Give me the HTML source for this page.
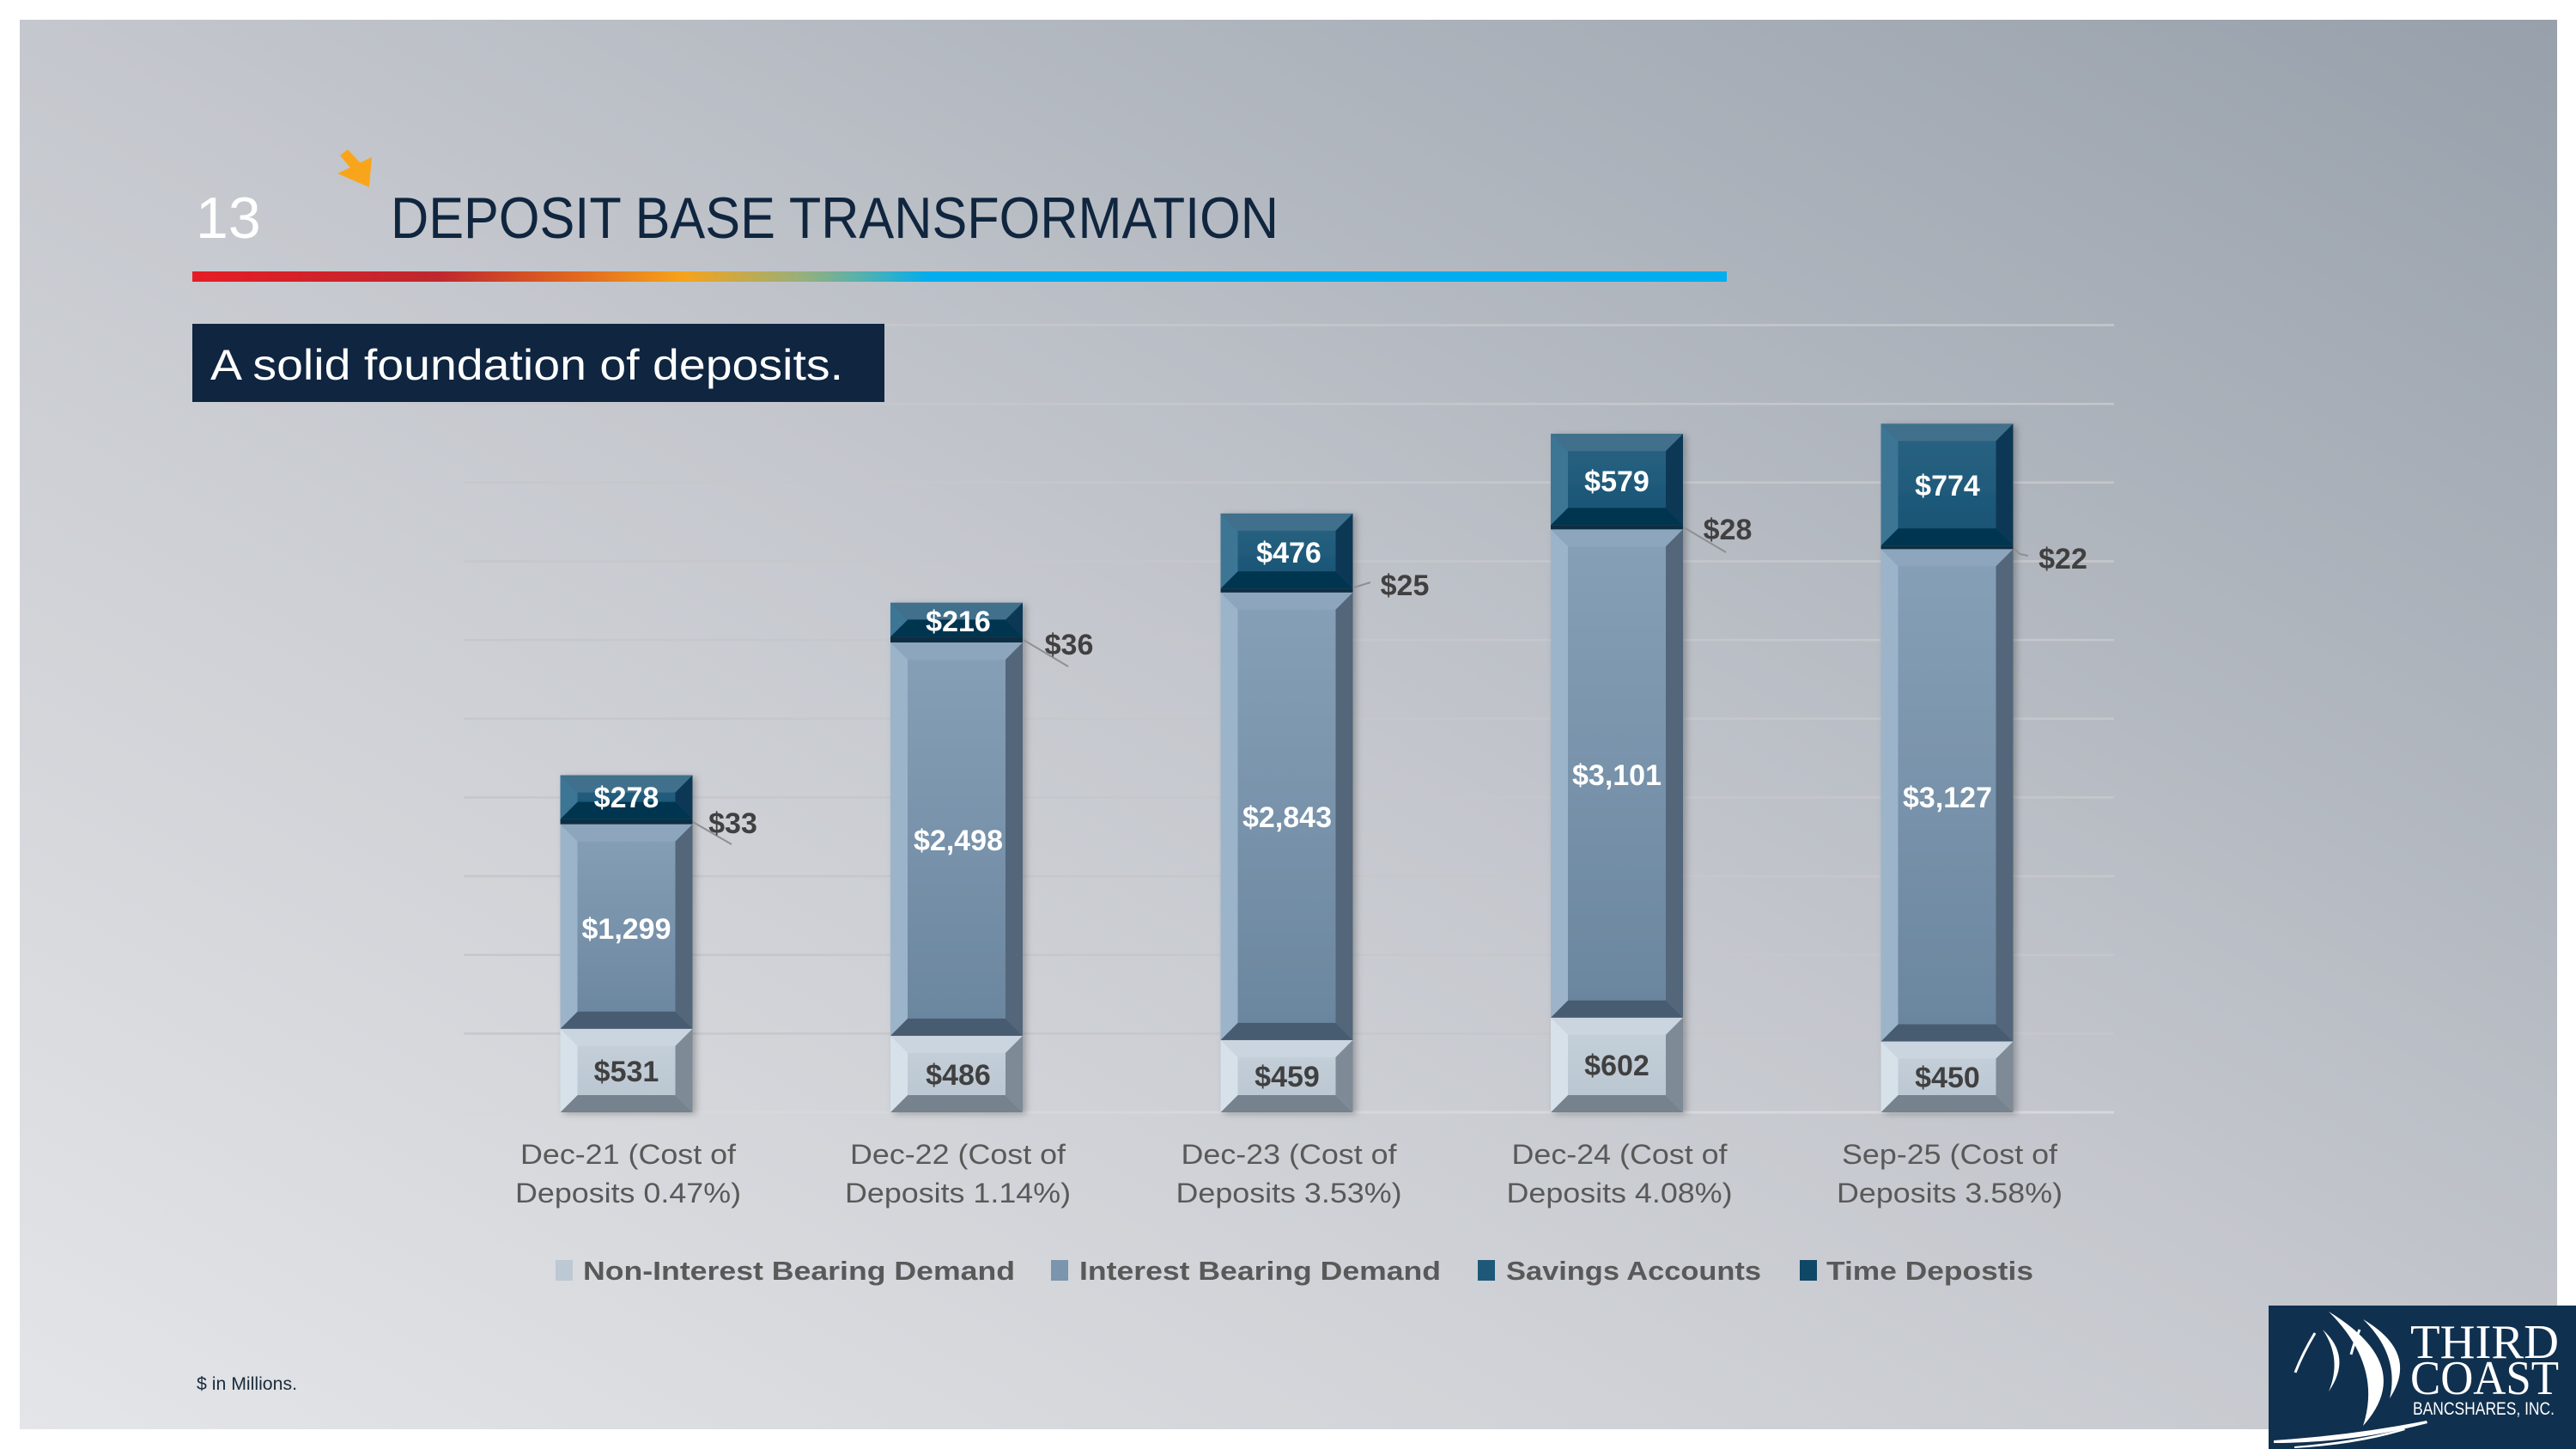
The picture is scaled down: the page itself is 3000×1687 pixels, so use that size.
<!DOCTYPE html>
<html><head><meta charset="utf-8"><style>
html,body{margin:0;padding:0;background:#fff;}
svg{display:block;}
</style></head><body>
<svg width="3000" height="1687" viewBox="0 0 3000 1687" xmlns="http://www.w3.org/2000/svg">
<defs>
<linearGradient id="bg" x1="0" y1="1" x2="1" y2="0">
<stop offset="0" stop-color="#e4e5e8"/><stop offset="0.5" stop-color="#c4c7cd"/><stop offset="1" stop-color="#97a0ab"/>
</linearGradient>
<linearGradient id="rb" x1="0" y1="0" x2="1" y2="0">
<stop offset="0" stop-color="#e51d25"/><stop offset="0.16" stop-color="#bf272e"/><stop offset="0.25" stop-color="#e0681f"/><stop offset="0.32" stop-color="#f6a31b"/><stop offset="0.40" stop-color="#94b07e"/><stop offset="0.44" stop-color="#4db1b5"/><stop offset="0.48" stop-color="#00adee"/><stop offset="1" stop-color="#00adee"/>
</linearGradient>
<linearGradient id="fN" x1="0" y1="0" x2="0" y2="1"><stop offset="0" stop-color="#c6d1db"/><stop offset="1" stop-color="#b8c4cf"/></linearGradient>
<linearGradient id="fI" x1="0" y1="0" x2="0" y2="1"><stop offset="0" stop-color="#86a0b7"/><stop offset="1" stop-color="#6a859e"/></linearGradient>
<linearGradient id="fT" x1="0" y1="0" x2="0" y2="1"><stop offset="0" stop-color="#2c6483"/><stop offset="1" stop-color="#165273"/></linearGradient>
<filter id="sh" x="-20%" y="-5%" width="140%" height="110%"><feDropShadow dx="4" dy="2" stdDeviation="4" flood-color="#000" flood-opacity="0.25"/></filter>
</defs>
<rect x="23" y="23" width="2955" height="1641" fill="url(#bg)"/>
<g stroke="#c5c7cb" stroke-width="2.5">
<line x1="540" y1="378.5" x2="2462" y2="378.5"/>
<line x1="540" y1="470.2" x2="2462" y2="470.2"/>
<line x1="540" y1="561.8" x2="2462" y2="561.8"/>
<line x1="540" y1="653.5" x2="2462" y2="653.5"/>
<line x1="540" y1="745.1" x2="2462" y2="745.1"/>
<line x1="540" y1="836.8" x2="2462" y2="836.8"/>
<line x1="540" y1="928.4" x2="2462" y2="928.4"/>
<line x1="540" y1="1020.1" x2="2462" y2="1020.1"/>
<line x1="540" y1="1111.7" x2="2462" y2="1111.7"/>
<line x1="540" y1="1203.4" x2="2462" y2="1203.4"/>
</g>
<line x1="540" y1="1295" x2="2462" y2="1295" stroke="#d6d8db" stroke-width="3"/>
<text x="228" y="277" font-family="Liberation Sans, sans-serif" font-size="68" fill="#ffffff">13</text>
<polygon points="396,181 405,174 422,192 412,200" fill="#f9a51b"/>
<polygon points="393,202 433,183 430,218" fill="#f9a51b"/>
<text x="455" y="277" font-family="Liberation Sans, sans-serif" font-size="68" fill="#10263f" textLength="1034" lengthAdjust="spacingAndGlyphs">DEPOSIT BASE TRANSFORMATION</text>
<rect x="224" y="316" width="1787" height="12" fill="url(#rb)"/>
<rect x="224" y="377" width="806" height="91" fill="#0f2540"/>
<text x="245" y="442" font-family="Liberation Sans, sans-serif" font-size="50" fill="#ffffff" textLength="737" lengthAdjust="spacingAndGlyphs">A solid foundation of deposits.</text>

<g id="bars">
<g filter="url(#sh)">
<rect x="652.5" y="1197.7" width="154" height="97.3" fill="url(#fN)"/>
<polygon points="652.5,1197.7 806.5,1197.7 786.5,1217.7 672.5,1217.7" fill="#cad5df"/>
<polygon points="652.5,1295 806.5,1295 786.5,1275 672.5,1275" fill="#76828e"/>
<polygon points="652.5,1197.7 672.5,1217.7 672.5,1275 652.5,1295" fill="#d7e1ea"/>
<polygon points="806.5,1197.7 786.5,1217.7 786.5,1275 806.5,1295" fill="#7e8a96"/>
<rect x="652.5" y="959.6" width="154" height="238.1" fill="url(#fI)"/>
<polygon points="652.5,959.6 806.5,959.6 786.5,979.6 672.5,979.6" fill="#8ea6bd"/>
<polygon points="652.5,1197.7 806.5,1197.7 786.5,1177.7 672.5,1177.7" fill="#465c70"/>
<polygon points="652.5,959.6 672.5,979.6 672.5,1177.7 652.5,1197.7" fill="#9cb4ca"/>
<polygon points="806.5,959.6 786.5,979.6 786.5,1177.7 806.5,1197.7" fill="#52667a"/>
<rect x="652.5" y="953.6" width="154" height="6" fill="#0a2e43"/>
<rect x="652.5" y="902.6" width="154" height="51" fill="url(#fT)"/>
<polygon points="652.5,902.6 806.5,902.6 786.5,922.6 672.5,922.6" fill="#41708b"/>
<polygon points="652.5,953.6 806.5,953.6 786.5,933.6 672.5,933.6" fill="#053550"/>
<polygon points="652.5,902.6 672.5,922.6 672.5,933.6 652.5,953.6" fill="#3c7595"/>
<polygon points="806.5,902.6 786.5,922.6 786.5,933.6 806.5,953.6" fill="#0a3954"/>
</g>
<g filter="url(#sh)">
<rect x="1037" y="1205.9" width="154" height="89.1" fill="url(#fN)"/>
<polygon points="1037,1205.9 1191,1205.9 1171,1225.9 1057,1225.9" fill="#cad5df"/>
<polygon points="1037,1295 1191,1295 1171,1275 1057,1275" fill="#76828e"/>
<polygon points="1037,1205.9 1057,1225.9 1057,1275 1037,1295" fill="#d7e1ea"/>
<polygon points="1191,1205.9 1171,1225.9 1171,1275 1191,1295" fill="#7e8a96"/>
<rect x="1037" y="748" width="154" height="457.9" fill="url(#fI)"/>
<polygon points="1037,748 1191,748 1171,768 1057,768" fill="#8ea6bd"/>
<polygon points="1037,1205.9 1191,1205.9 1171,1185.9 1057,1185.9" fill="#465c70"/>
<polygon points="1037,748 1057,768 1057,1185.9 1037,1205.9" fill="#9cb4ca"/>
<polygon points="1191,748 1171,768 1171,1185.9 1191,1205.9" fill="#52667a"/>
<rect x="1037" y="741.4" width="154" height="6.6" fill="#0a2e43"/>
<rect x="1037" y="701.8" width="154" height="39.6" fill="url(#fT)"/>
<polygon points="1037,701.8 1191,701.8 1171,721.8 1057,721.8" fill="#41708b"/>
<polygon points="1037,741.4 1191,741.4 1171,721.4 1057,721.4" fill="#053550"/>
<polygon points="1037,701.8 1057,721.6 1037,741.4" fill="#3c7595"/>
<polygon points="1191,701.8 1171,721.6 1191,741.4" fill="#0a3954"/>
</g>
<g filter="url(#sh)">
<rect x="1421.5" y="1210.9" width="154" height="84.1" fill="url(#fN)"/>
<polygon points="1421.5,1210.9 1575.5,1210.9 1555.5,1230.9 1441.5,1230.9" fill="#cad5df"/>
<polygon points="1421.5,1295 1575.5,1295 1555.5,1275 1441.5,1275" fill="#76828e"/>
<polygon points="1421.5,1210.9 1441.5,1230.9 1441.5,1275 1421.5,1295" fill="#d7e1ea"/>
<polygon points="1575.5,1210.9 1555.5,1230.9 1555.5,1275 1575.5,1295" fill="#7e8a96"/>
<rect x="1421.5" y="689.8" width="154" height="521.1" fill="url(#fI)"/>
<polygon points="1421.5,689.8 1575.5,689.8 1555.5,709.8 1441.5,709.8" fill="#8ea6bd"/>
<polygon points="1421.5,1210.9 1575.5,1210.9 1555.5,1190.9 1441.5,1190.9" fill="#465c70"/>
<polygon points="1421.5,689.8 1441.5,709.8 1441.5,1190.9 1421.5,1210.9" fill="#9cb4ca"/>
<polygon points="1575.5,689.8 1555.5,709.8 1555.5,1190.9 1575.5,1210.9" fill="#52667a"/>
<rect x="1421.5" y="685.2" width="154" height="4.6" fill="#0a2e43"/>
<rect x="1421.5" y="597.9" width="154" height="87.3" fill="url(#fT)"/>
<polygon points="1421.5,597.9 1575.5,597.9 1555.5,617.9 1441.5,617.9" fill="#41708b"/>
<polygon points="1421.5,685.2 1575.5,685.2 1555.5,665.2 1441.5,665.2" fill="#053550"/>
<polygon points="1421.5,597.9 1441.5,617.9 1441.5,665.2 1421.5,685.2" fill="#3c7595"/>
<polygon points="1575.5,597.9 1555.5,617.9 1555.5,665.2 1575.5,685.2" fill="#0a3954"/>
</g>
<g filter="url(#sh)">
<rect x="1806" y="1184.7" width="154" height="110.3" fill="url(#fN)"/>
<polygon points="1806,1184.7 1960,1184.7 1940,1204.7 1826,1204.7" fill="#cad5df"/>
<polygon points="1806,1295 1960,1295 1940,1275 1826,1275" fill="#76828e"/>
<polygon points="1806,1184.7 1826,1204.7 1826,1275 1806,1295" fill="#d7e1ea"/>
<polygon points="1960,1184.7 1940,1204.7 1940,1275 1960,1295" fill="#7e8a96"/>
<rect x="1806" y="616.3" width="154" height="568.4" fill="url(#fI)"/>
<polygon points="1806,616.3 1960,616.3 1940,636.3 1826,636.3" fill="#8ea6bd"/>
<polygon points="1806,1184.7 1960,1184.7 1940,1164.7 1826,1164.7" fill="#465c70"/>
<polygon points="1806,616.3 1826,636.3 1826,1164.7 1806,1184.7" fill="#9cb4ca"/>
<polygon points="1960,616.3 1940,636.3 1940,1164.7 1960,1184.7" fill="#52667a"/>
<rect x="1806" y="611.2" width="154" height="5.1" fill="#0a2e43"/>
<rect x="1806" y="505.1" width="154" height="106.1" fill="url(#fT)"/>
<polygon points="1806,505.1 1960,505.1 1940,525.1 1826,525.1" fill="#41708b"/>
<polygon points="1806,611.2 1960,611.2 1940,591.2 1826,591.2" fill="#053550"/>
<polygon points="1806,505.1 1826,525.1 1826,591.2 1806,611.2" fill="#3c7595"/>
<polygon points="1960,505.1 1940,525.1 1940,591.2 1960,611.2" fill="#0a3954"/>
</g>
<g filter="url(#sh)">
<rect x="2190.5" y="1212.5" width="154" height="82.5" fill="url(#fN)"/>
<polygon points="2190.5,1212.5 2344.5,1212.5 2324.5,1232.5 2210.5,1232.5" fill="#cad5df"/>
<polygon points="2190.5,1295 2344.5,1295 2324.5,1275 2210.5,1275" fill="#76828e"/>
<polygon points="2190.5,1212.5 2210.5,1232.5 2210.5,1275 2190.5,1295" fill="#d7e1ea"/>
<polygon points="2344.5,1212.5 2324.5,1232.5 2324.5,1275 2344.5,1295" fill="#7e8a96"/>
<rect x="2190.5" y="639.3" width="154" height="573.2" fill="url(#fI)"/>
<polygon points="2190.5,639.3 2344.5,639.3 2324.5,659.3 2210.5,659.3" fill="#8ea6bd"/>
<polygon points="2190.5,1212.5 2344.5,1212.5 2324.5,1192.5 2210.5,1192.5" fill="#465c70"/>
<polygon points="2190.5,639.3 2210.5,659.3 2210.5,1192.5 2190.5,1212.5" fill="#9cb4ca"/>
<polygon points="2344.5,639.3 2324.5,659.3 2324.5,1192.5 2344.5,1212.5" fill="#52667a"/>
<rect x="2190.5" y="635.3" width="154" height="4" fill="#0a2e43"/>
<rect x="2190.5" y="493.4" width="154" height="141.9" fill="url(#fT)"/>
<polygon points="2190.5,493.4 2344.5,493.4 2324.5,513.4 2210.5,513.4" fill="#41708b"/>
<polygon points="2190.5,635.3 2344.5,635.3 2324.5,615.3 2210.5,615.3" fill="#053550"/>
<polygon points="2190.5,493.4 2210.5,513.4 2210.5,615.3 2190.5,635.3" fill="#3c7595"/>
<polygon points="2344.5,493.4 2324.5,513.4 2324.5,615.3 2344.5,635.3" fill="#0a3954"/>
</g>
</g>

<g stroke="#8e8f92" stroke-width="2" fill="none">
<line x1="807" y1="957" x2="852" y2="983"/>
<line x1="1192" y1="745" x2="1244" y2="776"/>
<line x1="1577" y1="684" x2="1596" y2="678"/>
<line x1="1961" y1="614" x2="2010" y2="643"/>
<polyline points="2346,639 2352,645 2362,647"/>
</g>

<g font-family="Liberation Sans, sans-serif" font-weight="bold" font-size="34" text-anchor="middle">
<g fill="#404040">
<text x="729.5" y="1259">$531</text>
<text x="1116" y="1263">$486</text>
<text x="1499" y="1265">$459</text>
<text x="1883" y="1252">$602</text>
<text x="2268" y="1266">$450</text>
<text x="853.5" y="970">$33</text>
<text x="1245" y="762">$36</text>
<text x="1636" y="693">$25</text>
<text x="2012" y="628">$28</text>
<text x="2402.5" y="662">$22</text>
</g>
<g fill="#ffffff">
<text x="729.5" y="1093">$1,299</text>
<text x="1116" y="990">$2,498</text>
<text x="1499" y="963">$2,843</text>
<text x="1883" y="914">$3,101</text>
<text x="2268" y="940">$3,127</text>
<text x="729.5" y="940">$278</text>
<text x="1116" y="735">$216</text>
<text x="1501" y="655">$476</text>
<text x="1883" y="572">$579</text>
<text x="2268" y="577">$774</text>
</g>
</g>

<g font-family="Liberation Sans, sans-serif" font-size="32" fill="#595959" text-anchor="middle">
<text x="731.5" y="1355" textLength="251" lengthAdjust="spacingAndGlyphs">Dec-21 (Cost of</text>
<text x="731.5" y="1400" textLength="263" lengthAdjust="spacingAndGlyphs">Deposits 0.47%)</text>
<text x="1115.5" y="1355" textLength="251" lengthAdjust="spacingAndGlyphs">Dec-22 (Cost of</text>
<text x="1115.5" y="1400" textLength="263" lengthAdjust="spacingAndGlyphs">Deposits 1.14%)</text>
<text x="1501" y="1355" textLength="251" lengthAdjust="spacingAndGlyphs">Dec-23 (Cost of</text>
<text x="1501" y="1400" textLength="263" lengthAdjust="spacingAndGlyphs">Deposits 3.53%)</text>
<text x="1886" y="1355" textLength="251" lengthAdjust="spacingAndGlyphs">Dec-24 (Cost of</text>
<text x="1886" y="1400" textLength="263" lengthAdjust="spacingAndGlyphs">Deposits 4.08%)</text>
<text x="2270.5" y="1355" textLength="251" lengthAdjust="spacingAndGlyphs">Sep-25 (Cost of</text>
<text x="2270.5" y="1400" textLength="263" lengthAdjust="spacingAndGlyphs">Deposits 3.58%)</text>
</g>

<rect x="647" y="1467" width="20" height="24" fill="#bcc8d3"/>
<rect x="1224" y="1467" width="20" height="24" fill="#7a95ad"/>
<rect x="1721" y="1467" width="20" height="24" fill="#1d5878"/>
<rect x="2096" y="1467" width="20" height="24" fill="#0f4766"/>
<g font-family="Liberation Sans, sans-serif" font-weight="bold" font-size="31" fill="#595959">
<text x="679" y="1490" textLength="503" lengthAdjust="spacingAndGlyphs">Non-Interest Bearing Demand</text>
<text x="1257" y="1490" textLength="421" lengthAdjust="spacingAndGlyphs">Interest Bearing Demand</text>
<text x="1754" y="1490" textLength="297" lengthAdjust="spacingAndGlyphs">Savings Accounts</text>
<text x="2127" y="1490" textLength="241" lengthAdjust="spacingAndGlyphs">Time Depostis</text>
</g>

<text x="229" y="1618" font-family="Liberation Sans, sans-serif" font-size="21" fill="#1a2b3c" textLength="117" lengthAdjust="spacingAndGlyphs">$ in Millions.</text>

<rect x="2642" y="1520" width="358" height="167" fill="#10304f"/>
<g fill="#ffffff">
<path d="M2712,1527 Q2815,1590 2752,1660 Q2775,1590 2712,1527 Z"/>
<path d="M2752,1536 Q2818,1575 2783,1628 Q2795,1578 2752,1536 Z"/>
<path d="M2705,1548 Q2740,1580 2712,1620 Q2728,1582 2705,1548 Z"/>
<path d="M2648,1677 Q2740,1671 2826,1654 L2827,1657 Q2740,1680 2648,1680 Z"/>
<path d="M2672,1684 Q2745,1678 2800,1663 L2801,1665 Q2745,1682 2672,1686 Z"/>
</g>
<g stroke="#ffffff" stroke-width="3" fill="none">
<path d="M2696,1552 Q2682,1575 2673,1598"/>
<path d="M2748,1548 Q2742,1562 2738,1577"/>
</g>
<g font-family="Liberation Serif, serif" font-size="56" fill="#ffffff">
<text x="2807" y="1581" textLength="173" lengthAdjust="spacingAndGlyphs">THIRD</text>
<text x="2807" y="1623" textLength="173" lengthAdjust="spacingAndGlyphs">COAST</text>
</g>
<text x="2810" y="1647" font-family="Liberation Sans, sans-serif" font-size="21" fill="#ffffff" textLength="165" lengthAdjust="spacingAndGlyphs">BANCSHARES, INC.</text>
</svg>
</body></html>
